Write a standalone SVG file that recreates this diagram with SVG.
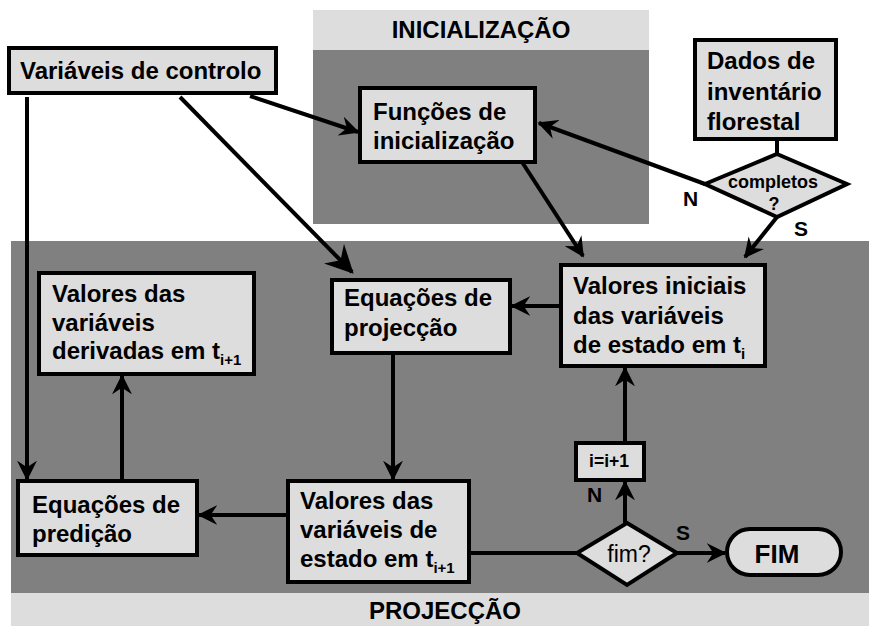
<svg xmlns="http://www.w3.org/2000/svg" width="869" height="626" viewBox="0 0 869 626">
<defs>
<style>
.t{font-family:"Liberation Sans",Arial,sans-serif;font-weight:bold;font-size:24px;fill:#000}
.lbl{font-size:21px}
.box{fill:#dddddd;stroke:#000;stroke-width:4}
.c{fill:none;stroke:#000;stroke-width:4}
.sub{font-size:15px}
</style>
<marker id="ah" viewBox="0 0 12 12" refX="11" refY="6" markerWidth="5" markerHeight="5" orient="auto" markerUnits="strokeWidth">
<path d="M0,0 L12,6 L0,12 L4,6 Z" fill="#000"/>
</marker>
<marker id="ah2" viewBox="0 0 12 12" refX="11" refY="6" markerWidth="7" markerHeight="7" orient="auto" markerUnits="strokeWidth">
<path d="M0,0 L12,6 L0,12 L4,6 Z" fill="#000"/>
</marker>
</defs>
<rect width="869" height="626" fill="#fff"/>
<g id="panel-inicializacao">
<rect x="313" y="10" width="336" height="40" fill="#dddddd"/>
<rect x="313" y="50" width="336" height="174" fill="#808080"/>
<text class="t" x="481" y="38" text-anchor="middle">INICIALIZAÇÃO</text>
</g>
<g id="panel-projeccao">
<rect x="11" y="241" width="858" height="352" fill="#808080"/>
<rect x="11" y="593" width="858" height="33" fill="#dddddd"/>
<text class="t" x="445" y="619" text-anchor="middle">PROJECÇÃO</text>
</g>
<g id="connectors">
<line class="c" x1="250" y1="96" x2="358" y2="132" marker-end="url(#ah)"/>
<line class="c" x1="180" y1="97" x2="352" y2="272" stroke-width="3" marker-end="url(#ah2)"/>
<line class="c" x1="27" y1="97" x2="27" y2="479" marker-end="url(#ah)"/>
<line class="c" x1="777" y1="139" x2="777" y2="154"/>
<line class="c" x1="705" y1="184" x2="539" y2="123" marker-end="url(#ah)"/>
<line class="c" x1="777" y1="217" x2="745" y2="257" marker-end="url(#ah)"/>
<line class="c" x1="522" y1="162" x2="583" y2="256" marker-end="url(#ah)"/>
<line class="c" x1="561" y1="306" x2="512" y2="306" marker-end="url(#ah)"/>
<line class="c" x1="393" y1="353" x2="393" y2="479" marker-end="url(#ah)"/>
<line class="c" x1="288" y1="515" x2="199" y2="515" marker-end="url(#ah)"/>
<line class="c" x1="122" y1="481" x2="122" y2="376" marker-end="url(#ah)"/>
<line class="c" x1="469" y1="553" x2="577" y2="553"/>
<line class="c" x1="625" y1="523" x2="625" y2="482" marker-end="url(#ah)"/>
<line class="c" x1="625" y1="443" x2="625" y2="368" marker-end="url(#ah)"/>
<line class="c" x1="677" y1="553" x2="725" y2="553" marker-end="url(#ah)"/>
<text class="t lbl" x="683" y="206">N</text>
<text class="t lbl" x="794" y="236">S</text>
<text class="t lbl" x="587" y="502">N</text>
<text class="t lbl" x="676" y="540">S</text>
</g>
<g id="n-variaveis-controlo">
<rect class="box" x="9" y="48" width="267" height="45"/>
<text class="t" x="20" y="79">Variáveis de controlo</text>
</g>
<g id="n-funcoes-inicializacao">
<rect class="box" x="360" y="88" width="175" height="74"/>
<text class="t" x="373" y="120">Funções de</text>
<text class="t" x="373" y="149">inicialização</text>
</g>
<g id="n-dados-inventario">
<rect class="box" x="695" y="40" width="141" height="99"/>
<text class="t" x="707" y="69">Dados de</text>
<text class="t" x="707" y="100">inventário</text>
<text class="t" x="707" y="130">florestal</text>
</g>
<g id="n-completos">
<polygon class="box" points="777,154 847,184 777,217 705,184"/>
<text class="t" x="773" y="188" text-anchor="middle" style="font-size:18px">completos</text>
<text class="t" x="774" y="210" text-anchor="middle" style="font-size:18px">?</text>
</g>
<g id="n-valores-iniciais">
<rect class="box" x="561" y="265" width="204" height="101"/>
<text class="t" x="573" y="294">Valores iniciais</text>
<text class="t" x="573" y="324">das variáveis</text>
<text class="t" x="573" y="353">de estado em t<tspan class="sub" dy="6">i</tspan></text>
</g>
<g id="n-equacoes-projeccao">
<rect class="box" x="332" y="280" width="178" height="73"/>
<text class="t" x="344" y="306">Equações de</text>
<text class="t" x="344" y="336">projecção</text>
</g>
<g id="n-valores-derivadas">
<rect class="box" x="39" y="273" width="215" height="101"/>
<text class="t" x="52" y="302">Valores das</text>
<text class="t" x="52" y="331">variáveis</text>
<text class="t" x="52" y="359">derivadas em t<tspan class="sub" dy="6">i+1</tspan></text>
</g>
<g id="n-equacoes-predicao">
<rect class="box" x="18" y="481" width="179" height="74"/>
<text class="t" x="32" y="513">Equações de</text>
<text class="t" x="32" y="542">predição</text>
</g>
<g id="n-valores-estado">
<rect class="box" x="288" y="481" width="181" height="101"/>
<text class="t" x="300" y="509">Valores das</text>
<text class="t" x="300" y="538">variáveis de</text>
<text class="t" x="300" y="567">estado em t<tspan class="sub" dy="6">i+1</tspan></text>
</g>
<g id="n-incremento">
<rect class="box" x="576" y="443" width="68" height="37"/>
<text class="t" x="609" y="467" text-anchor="middle" style="font-size:17.5px">i=i+1</text>
</g>
<g id="n-fim-decisao">
<polygon class="box" points="627,523 677,553 627,585 577,553"/>
<text x="629" y="562" text-anchor="middle" font-family="Liberation Sans, Arial, sans-serif" font-size="23">fim?</text>
</g>
<g id="n-fim">
<rect class="box" x="727" y="529" width="114" height="46" rx="23" ry="23"/>
<text class="t" x="777" y="563" text-anchor="middle" style="font-size:26px">FIM</text>
</g>
</svg>
